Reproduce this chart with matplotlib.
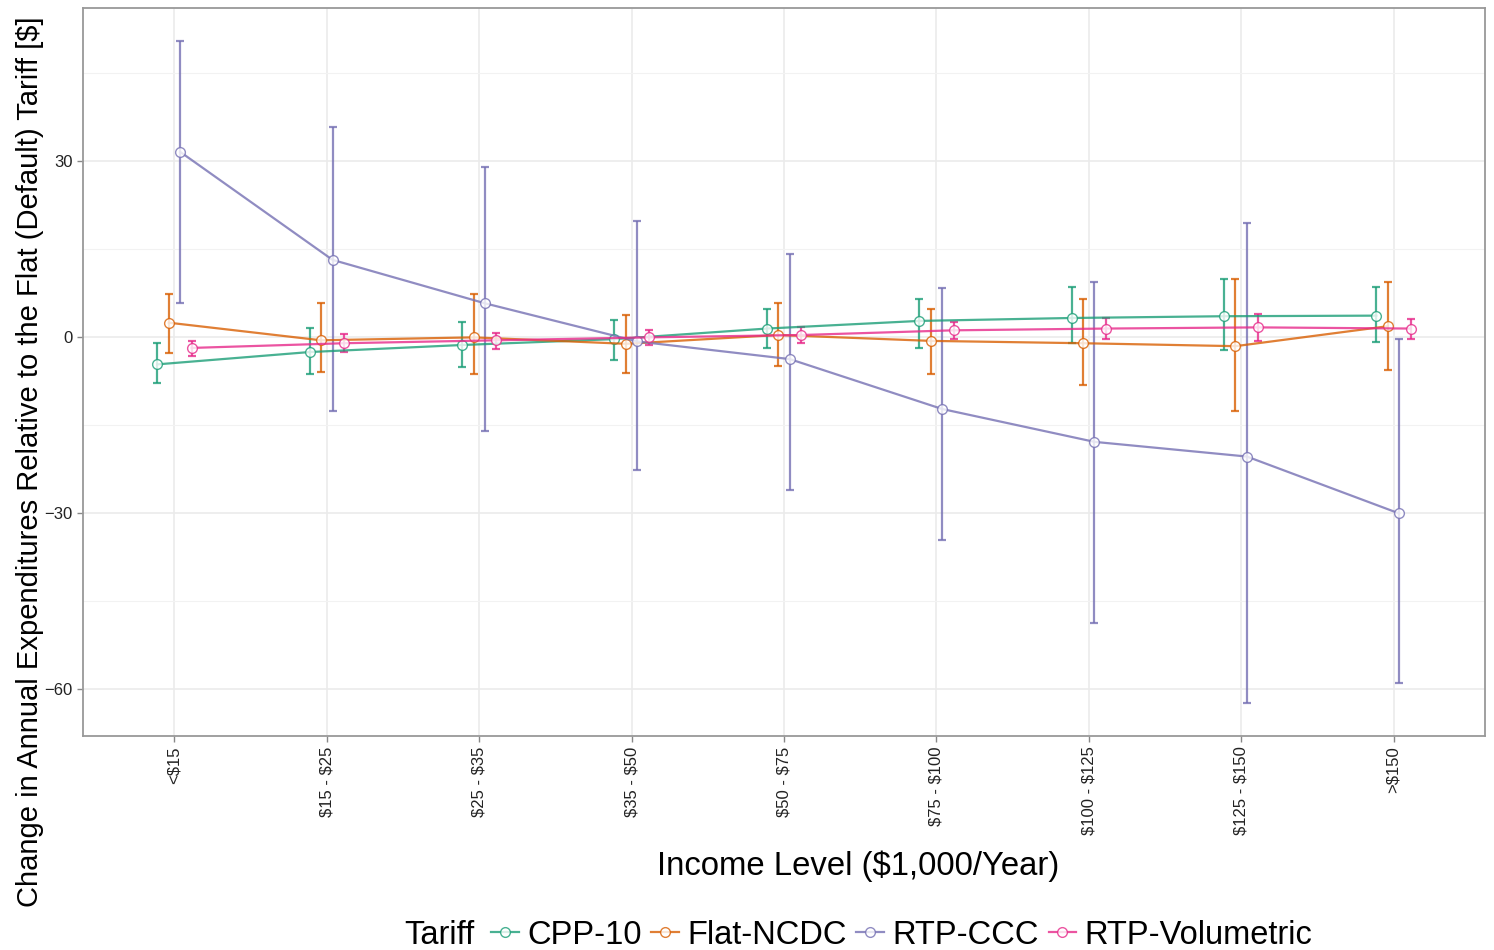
import matplotlib.pyplot as plt
import numpy as np

plt.rcParams['font.family'] = ['Liberation Sans', 'DejaVu Sans']

income = ['<$15', '$15 - $25', '$25 - $35', '$35 - $50', '$50 - $75',
          '$75 - $100', '$100 - $125', '$125 - $150', '>$150']
tariffs = ['CPP-10', 'Flat-NCDC', 'RTP-CCC', 'RTP-Volumetric']
colors = ['#1B9E77', '#D95F02', '#7570B3', '#E7298A']

# mean change and error bar ends, per tariff
cpp_mean = [-4.7, -2.6, -1.4, -0.4, 1.4, 2.7, 3.2, 3.5, 3.6]
cpp_low = [-7.8, -6.4, -5.1, -3.9, -1.9, -1.9, -1.1, -2.2, -0.9]
cpp_high = [-1.1, 1.5, 2.6, 2.8, 4.8, 6.5, 8.5, 9.8, 8.4]

flat_mean = [2.4, -0.6, -0.1, -1.2, 0.3, -0.7, -1.1, -1.6, 1.8]
flat_low = [-2.7, -6.0, -6.4, -6.1, -4.9, -6.3, -8.2, -12.7, -5.6]
flat_high = [7.3, 5.7, 7.3, 3.7, 5.7, 4.8, 6.5, 9.9, 9.3]

ccc_mean = [31.5, 13.1, 5.7, -0.8, -3.8, -12.3, -17.9, -20.4, -30.1]
ccc_low = [5.8, -12.6, -16.0, -22.7, -26.1, -34.6, -48.7, -62.3, -58.9]
ccc_high = [50.4, 35.7, 28.9, 19.7, 14.1, 8.3, 9.3, 19.3, -0.3]

vol_mean = [-1.9, -1.1, -0.6, -0.1, 0.3, 1.1, 1.4, 1.6, 1.4]
vol_low = [-3.2, -2.6, -2.1, -1.4, -1.0, -0.3, -0.4, -0.7, -0.3]
vol_high = [-0.7, 0.5, 0.7, 1.2, 1.6, 2.6, 3.2, 3.9, 3.1]

means = [cpp_mean, flat_mean, ccc_mean, vol_mean]
lows = [cpp_low, flat_low, ccc_low, vol_low]
highs = [cpp_high, flat_high, ccc_high, vol_high]

fig = plt.figure(figsize=(14.94, 9.5), dpi=100)
ax = fig.add_axes([83 / 1494, 1 - 736 / 950, (1485 - 83) / 1494, (736 - 8) / 950])

x = np.arange(len(income))
dodge = 0.3
handles = []
for i, name in enumerate(tariffs):
    off = (i - 1.5) * dodge / 4
    m = np.array(means[i])
    lo = m - np.array(lows[i])
    hi = np.array(highs[i]) - m
    ax.errorbar(x + off, m, yerr=[lo, hi], fmt='none', ecolor=colors[i],
                elinewidth=1.6, capsize=3, capthick=1.6, alpha=0.8, zorder=2)
    h, = ax.plot(x + off, m, color=colors[i], lw=1.6, alpha=0.8,
                 marker='o', ms=7, mfc='white', mec=colors[i], mew=1.0,
                 label=name, zorder=3)
    handles.append(h)

ax.set_xlim(-0.6, 8.6)
ax.set_ylim(-68, 56)
ax.set_xticks(x)
# escape dollar signs so they are not read as mathtext
ax.set_xticklabels([s.replace('$', r'\$') for s in income], rotation=90,
                   va='top', ha='center', fontsize=12, color='#222222')
ax.set_yticks([-60, -30, 0, 30])
ax.set_yticks([-45, -15, 15, 45], minor=True)
ax.tick_params(axis='both', which='major', labelsize=12, color='#888888',
               length=4, width=1, labelcolor='#222222')
ax.tick_params(axis='y', which='minor', length=0)
ax.grid(True, which='major', color='#ebebeb', lw=1.2)
ax.grid(True, which='minor', axis='y', color='#f2f2f2', lw=0.8)
ax.set_axisbelow(True)
for s in ax.spines.values():
    s.set_color('#999999')
    s.set_linewidth(1.3)

fig.text(858 / 1494, 1 - 866 / 950, r'Income Level (\$1,000/Year)',
         ha='center', va='center', fontsize=23.7)
fig.text(30 / 1494, 1 - 462 / 950,
         r'Change in Annual Expenditures Relative to the Flat (Default) Tariff [\$]',
         ha='center', va='center', rotation=90, fontsize=21)

fig.text(404 / 1494, 1 - 935 / 950, 'Tariff', ha='left', va='center', fontsize=23.5)
fig.legend(handles=handles, labels=tariffs, loc='center left',
           bbox_to_anchor=(491 / 1494, 1 - 935 / 950), ncol=4, frameon=False,
           fontsize=23.5, handlelength=0.85, handletextpad=0.25,
           columnspacing=0.3, borderaxespad=0, borderpad=0)

fig.savefig('out.png', dpi=100)
